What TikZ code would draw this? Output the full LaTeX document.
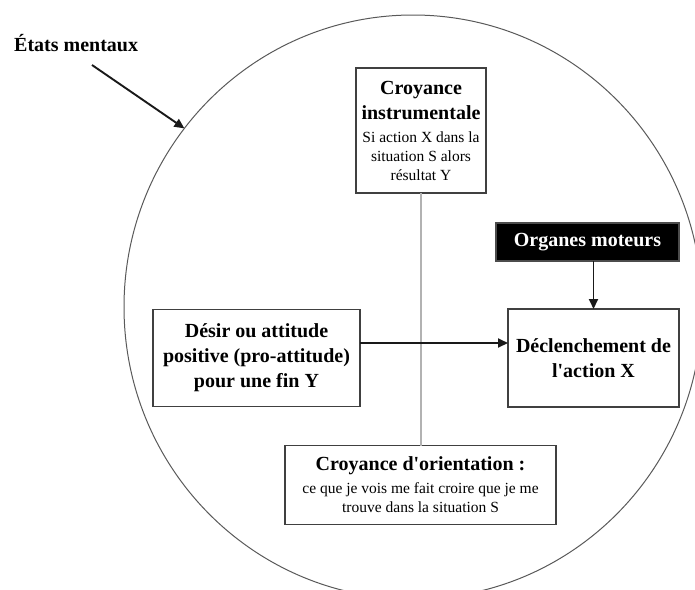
\documentclass[tikz,border=0pt]{standalone}
\usepackage{fontspec}
\setmainfont{Liberation Serif}
\newfontfamily\lsf{Liberation Serif}
\usetikzlibrary{arrows.meta,shapes.geometric}
\newcommand{\bt}{\lsf\fontsize{20}{25}\selectfont\bfseries}
\newcommand{\stx}{\lsf\fontsize{15.5}{19.5}\selectfont\mdseries}
\begin{document}
\begin{tikzpicture}[x=1pt,y=-1pt,
  box/.style={draw=black!75, line width=1.1pt, fill=white, align=center, inner sep=0pt, outer sep=0pt, font=\bt},
  arr/.style={-{Triangle[length=10pt,width=9pt]}, line width=1.9pt, draw=black!90},
  link/.style={line width=2.2pt, draw=black!30},
  ring/.style={ellipse, draw=black!65, line width=1pt, inner sep=0pt, outer sep=0pt}]
\useasboundingbox (0,0) rectangle (695,589);
\clip (0,0) rectangle (695,589);
\node[ring, minimum width=578, minimum height=584] (circ) at (413,307) {};
\node[box, minimum width=130, minimum height=125] (ci) at (421,130.5)
  {Croyance\\instrumentale\\[-2pt]\stx Si action X dans la\\[-6pt]\stx situation S alors\\[-6pt]\stx résultat Y};
\node[box, fill=black, text=white, draw=black!70, minimum width=183, minimum height=38] (om) at (587.5,242)
  {Organes moteurs};
\node[box, minimum width=207, minimum height=97] (de) at (256.5,358)
  {Désir ou attitude\\positive (pro-attitude)\\pour une fin Y};
\node[box, minimum width=171, minimum height=98] (dx) at (593.5,358)
  {Déclenchement de\\l'action X};
\node[box, minimum width=271, minimum height=79] (co) at (420.5,485)
  {Croyance d'orientation :\\[-2pt]\stx ce que je vois me fait croire que je me\\[-6pt]\stx trouve dans la situation S};
\node[anchor=west, inner sep=0pt, font=\bt] (em) at (14,43) {États mentaux};
\coordinate (emstart) at (92,65);
\draw[link] (ci.south) -- (ci.south |- co.north);
\draw[arr] ([yshift=15pt]de.east) -- ([yshift=15pt]dx.west);
\draw[arr] (dx.north |- om.south) -- (dx.north);
\draw[arr] (emstart) -- (circ.142);
\end{tikzpicture}
\end{document}
